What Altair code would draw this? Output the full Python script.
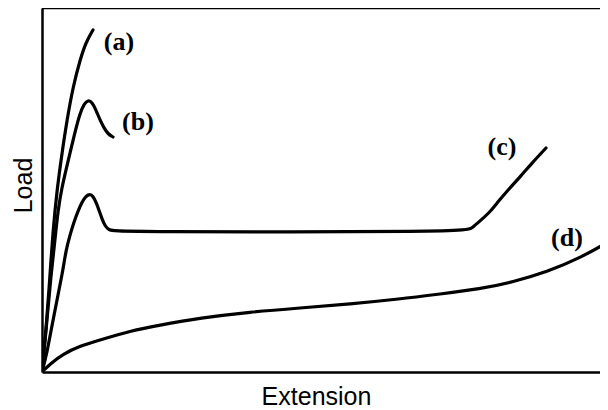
import altair as alt
import pandas as pd

# Curve data (extension, load), in arbitrary units
a_x = [0, 4, 7, 11, 15, 20, 25, 31, 38, 44, 51]
a_y = [0, 42, 82, 142, 182, 219, 252, 285, 312, 330, 342]

b_x = [0, 5, 9, 13, 16, 20, 24, 28, 33, 38, 42, 46, 50, 54, 58, 62, 66, 71]
b_y = [0, 52, 97, 132, 162, 185, 202, 219, 240, 259, 268, 272, 270, 262, 252, 244, 238, 235]

c_x = [0, 5, 11, 16, 21, 24, 28, 32, 36, 40, 44, 48, 51, 54, 57, 60, 63, 67, 72,
       424, 430, 438, 448, 455, 466, 478, 490, 504]
c_y = [0, 19, 52, 77, 102, 122, 137, 150, 161, 170, 176, 178, 176, 170, 162, 153, 146, 142, 140,
       140, 144, 151, 160, 169, 182, 195, 209, 224]

d_x = [0, 8, 21, 38, 58, 88, 118, 158, 208, 258, 308, 358, 398, 438, 471, 505, 538, 566]
d_y = [0, 8, 18, 26, 32, 41, 47, 54, 60, 64, 68, 73, 78, 83, 90, 100, 114, 130]

label_text = ["(a)", "(b)", "(c)", "(d)"]
label_x = [77, 96, 460, 525]
label_y = [330, 250, 225, 134]

X_MAX = 558
Y_MAX = 364

rows = []
for name, xs, ys in [("a", a_x, a_y), ("b", b_x, b_y), ("c", c_x, c_y), ("d", d_x, d_y)]:
    for i, (xv, yv) in enumerate(zip(xs, ys)):
        rows.append({"curve": name, "i": i, "ext": xv, "load": yv})
df = pd.DataFrame(rows)
labels = pd.DataFrame({"t": label_text, "ext": label_x, "load": label_y})
frame = pd.DataFrame({"x0": [0], "x1": [X_MAX], "y": [Y_MAX]})

xscale = alt.Scale(domain=[0, X_MAX], nice=False, zero=False)
yscale = alt.Scale(domain=[0, Y_MAX], nice=False, zero=False)

lines = alt.Chart(df).mark_line(
    color="black", strokeWidth=3.2, interpolate="basis", clip=True, strokeCap="round"
).encode(
    x=alt.X("ext:Q", scale=xscale, title="Extension"),
    y=alt.Y("load:Q", scale=yscale, title="Load"),
    detail="curve:N",
    order="i:Q",
)

text = alt.Chart(labels).mark_text(
    font="Liberation Serif", fontSize=26, fontWeight="bold", color="black",
    align="center", baseline="middle"
).encode(
    x=alt.X("ext:Q", scale=xscale),
    y=alt.Y("load:Q", scale=yscale),
    text="t:N",
)

top = alt.Chart(frame).mark_rule(color="black", strokeWidth=2.5).encode(
    x=alt.X("x0:Q", scale=xscale),
    x2="x1:Q",
    y=alt.Y("y:Q", scale=yscale),
)

chart = alt.layer(lines, text, top).properties(
    width=X_MAX, height=Y_MAX,
    autosize=alt.AutoSizeParams(type="none"),
    padding={"left": 34, "top": 0, "right": 0, "bottom": 36},
).configure_view(stroke=None).configure_axis(
    domainColor="black", domainWidth=2.5, ticks=False, labels=False, grid=False,
    titleFont="Liberation Sans", titleFontSize=25, titleFontWeight="normal",
    titleColor="black",
).configure_axisX(titlePadding=12, titleX=274).configure_axisY(titlePadding=6, titleY=177)

chart.save("out.html", embed_options={"renderer": "svg", "actions": False})
